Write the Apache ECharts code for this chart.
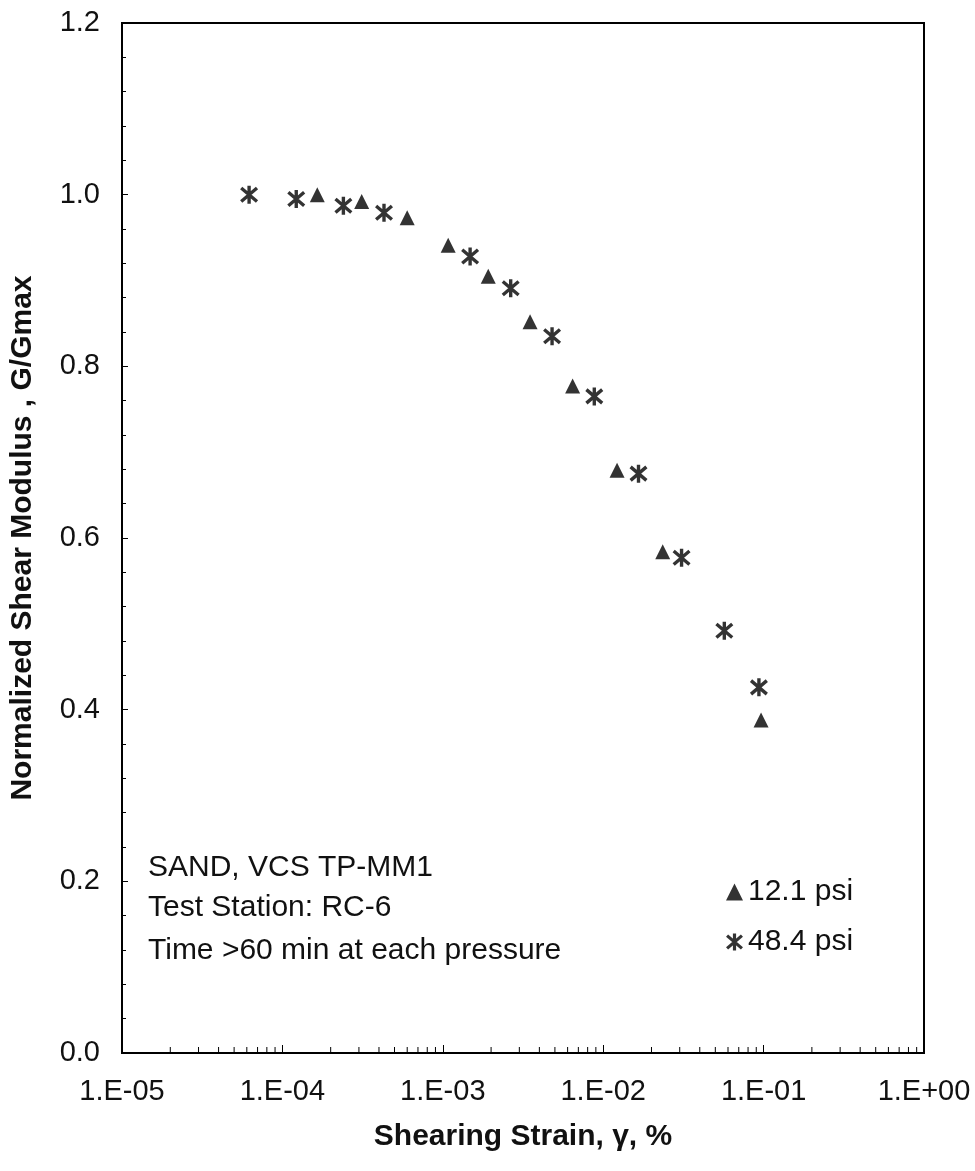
<!DOCTYPE html>
<html>
<head>
<meta charset="utf-8">
<script src="https://cdn.jsdelivr.net/npm/echarts@6/dist/echarts.min.js"></script>
<style>
html,body{margin:0;padding:0;background:#fff;}
#chart{width:975px;height:1171px;}
</style>
</head>
<body>
<div id="chart"></div>
<script>
// Series 12.1 psi (triangles): [strain %, G/Gmax]
var strain121 = [1.65e-4, 3.12e-4, 6.0e-4, 1.08e-3, 1.92e-3, 3.5e-3, 6.45e-3, 1.22e-2, 2.35e-2, 9.64e-2];
var ratio121  = [1.000, 0.992, 0.973, 0.941, 0.905, 0.852, 0.777, 0.679, 0.584, 0.388];
// Series 48.4 psi (asterisks)
var strain484 = [6.2e-5, 1.22e-4, 2.4e-4, 4.3e-4, 1.48e-3, 2.65e-3, 4.8e-3, 8.8e-3, 1.66e-2, 3.08e-2, 5.69e-2, 9.35e-2];
var ratio484  = [1.000, 0.995, 0.987, 0.979, 0.928, 0.891, 0.835, 0.765, 0.675, 0.577, 0.492, 0.426];

var seriesNames = ['12.1 psi', '48.4 psi'];
var xTickLabels = {'-5':'1.E-05','-4':'1.E-04','-3':'1.E-03','-2':'1.E-02','-1':'1.E-01','0':'1.E+00'};
var xMinorTicks = [2e-5,3e-5,4e-5,5e-5,6e-5,7e-5,8e-5,9e-5,
                   2e-4,3e-4,4e-4,5e-4,6e-4,7e-4,8e-4,9e-4,
                   2e-3,3e-3,4e-3,5e-3,6e-3,7e-3,8e-3,9e-3,
                   2e-2,3e-2,4e-2,5e-2,6e-2,7e-2,8e-2,9e-2,
                   2e-1,3e-1,4e-1,5e-1,6e-1,7e-1,8e-1,9e-1];
var noteLines = ['SAND, VCS TP-MM1', 'Test Station: RC-6', 'Time >60 min at each pressure'];
var xTitle = 'Shearing Strain, \u03b3, %';
var yTitle = 'Normalized Shear Modulus , G/Gmax';

function zip(a, b) { return a.map(function (v, i) { return [v, b[i]]; }); }

var asteriskPath = 'path://M6.5,0L9.5,0L9.5,16L6.5,16Z' +
  'M1.977,0.861L15.977,12.861L14.023,15.139L0.023,3.139Z' +
  'M0.023,12.861L14.023,0.861L15.977,3.139L1.977,15.139Z';

var FONT = '"Liberation Sans", Arial, sans-serif';
var noteY = [868, 908, 951];

var chart = echarts.init(document.getElementById('chart'), null, {renderer: 'canvas'});
chart.setOption({
  animation: false,
  backgroundColor: '#ffffff',
  grid: {left: 122, top: 23, right: 51, bottom: 118, show: true, borderColor: '#000', borderWidth: 2, backgroundColor: 'transparent'},
  xAxis: {
    type: 'log', logBase: 10, min: 1e-5, max: 1,
    axisLine: {lineStyle: {color: '#000', width: 2}},
    axisTick: {inside: true, length: 8, lineStyle: {color: '#000'}},
    splitLine: {show: false},
    minorTick: {show: false},
    axisLabel: {
      color: '#111', fontSize: 29, fontFamily: FONT, margin: 24,
      formatter: function (v) { var e = Math.round(Math.log10(v)); return xTickLabels[String(e)] || ''; }
    },
    name: xTitle, nameLocation: 'middle', nameGap: 69,
    nameTextStyle: {color: '#111', fontSize: 30, fontWeight: 'bold', fontFamily: FONT}
  },
  yAxis: {
    type: 'value', min: 0, max: 1.2, interval: 0.2,
    axisLine: {show: true, lineStyle: {color: '#000', width: 2}},
    axisTick: {inside: true, length: 6, lineStyle: {color: '#000'}},
    minorTick: {show: true, splitNumber: 5, length: 4, lineStyle: {color: '#000'}},
    splitLine: {show: false},
    axisLabel: {color: '#111', fontSize: 29, fontFamily: FONT, margin: 22,
      formatter: function (v) { return v.toFixed(1); }},
    name: yTitle, nameLocation: 'middle', nameGap: 84, nameRotate: 90,
    nameTextStyle: {color: '#111', fontSize: 30, fontWeight: 'bold', fontFamily: FONT}
  },
  legend: {
    data: seriesNames, orient: 'vertical', left: 721, top: 872,
    itemWidth: 17, itemHeight: 17, itemGap: 20,
    textStyle: {color: '#111', fontSize: 30, fontFamily: FONT},
    selectedMode: false
  },
  graphic: noteLines.map(function (t, i) {
    return {type: 'text', x: 148, y: noteY[i],
      style: {text: t, fill: '#111', fontSize: 30, fontFamily: FONT, verticalAlign: 'middle'}};
  }),
  series: [
    {
      name: seriesNames[0], type: 'scatter', data: zip(strain121, ratio121),
      symbol: 'triangle', symbolSize: [15, 15],
      itemStyle: {color: '#000'}
    },
    {
      name: seriesNames[1], type: 'scatter', data: zip(strain484, ratio484),
      symbol: asteriskPath, symbolSize: [18, 18],
      itemStyle: {color: '#000'}
    },
    {
      name: 'minorTicks', type: 'custom', silent: true,
      data: xMinorTicks.map(function (v) { return [v, 0]; }),
      renderItem: function (params, api) {
        var p = api.coord([api.value(0), 0]);
        return {type: 'line', shape: {x1: p[0], y1: p[1], x2: p[0], y2: p[1] - 6},
          style: {stroke: '#000', lineWidth: 1}};
      }
    }
  ]
});
</script>
</body>
</html>
